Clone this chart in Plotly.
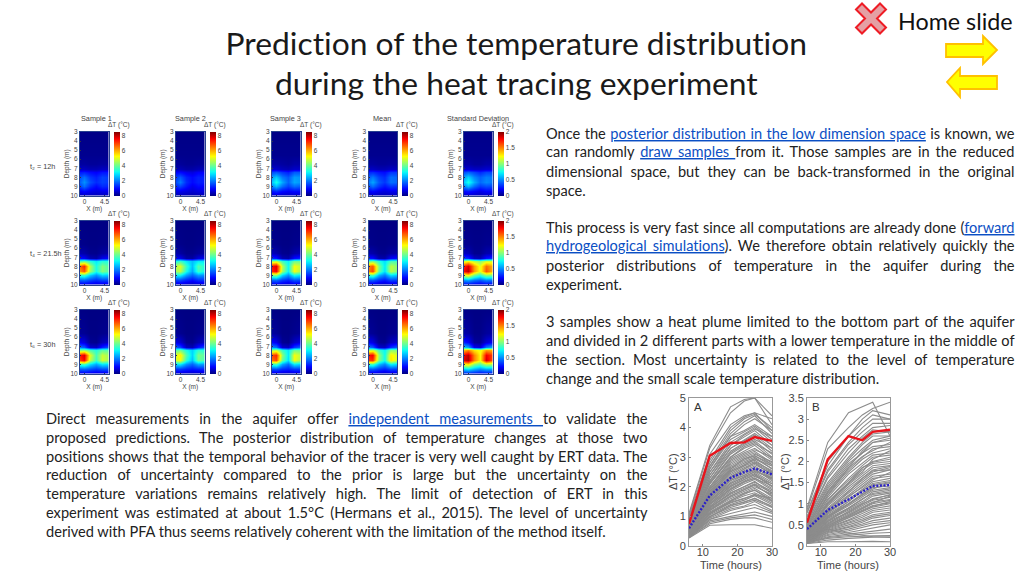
import json
import plotly.graph_objects as go

W, H = 1024, 576
# ---------- heat map data ----------
grid_x = [-1.4, 0, 1.2, 2.6, 4, 5.8]
grid_depth = [2.8, 5.5, 6.5, 7.1, 7.4, 8, 8.5, 9, 9.5, 10.2]

s1_t2 = [[.05,.05,.05,.05,.05,.05],[.12,.12,.12,.12,.12,.12],[.25,.25,.2,.2,.25,.25],[.5,.5,.4,.4,.5,.5],[1.1,1.2,1,.9,1.1,1.1],
         [1.5,1.9,1.4,1.2,1.5,1.4],[1.6,2.2,1.6,1.3,1.5,1.4],[1.3,1.9,1.3,1,1.3,1.2],[.8,1,.8,.7,.8,.8],[.3,.3,.3,.3,.3,.3]]
s2_t2 = [[.05,.05,.05,.05,.05,.05],[.1,.1,.1,.1,.1,.1],[.2,.2,.15,.15,.2,.2],[.4,.4,.3,.3,.4,.4],[.9,1,.8,.7,.9,.9],
         [1.3,1.7,1.2,1,1.2,1.1],[1.4,2,1.3,1,1.2,1.1],[1.1,1.5,1.1,.8,1,.9],[.7,.8,.7,.6,.7,.7],[.25,.25,.25,.25,.25,.25]]
s3_t2 = [[.05,.05,.05,.05,.05,.05],[.12,.12,.12,.12,.12,.12],[.3,.3,.25,.2,.3,.3],[.6,.6,.45,.4,.55,.55],[1.5,1.7,1.4,1.2,1.7,1.7],
         [2.1,2.7,2,1.7,2.3,2.2],[2.4,3.3,2.4,1.8,2.4,2.2],[1.9,2.6,1.9,1.5,1.9,1.7],[1,1.3,1,.9,1,1],[.35,.35,.35,.35,.35,.35]]
mean_t2 = [[.05,.05,.05,.05,.05,.05],[.12,.12,.12,.12,.12,.12],[.25,.25,.2,.2,.25,.25],[.5,.5,.4,.4,.5,.5],[1.2,1.3,1.1,1,1.4,1.4],
         [1.6,2,1.5,1.3,1.9,1.8],[1.8,2.4,1.7,1.4,1.9,1.8],[1.4,1.9,1.4,1.1,1.4,1.3],[.8,1,.8,.7,.8,.8],[.3,.3,.3,.3,.3,.3]]
sd_t2 = [[.02,.02,.02,.02,.02,.02],[.03,.03,.03,.03,.03,.03],[.07,.07,.05,.05,.07,.07],[.15,.15,.12,.12,.14,.14],[.36,.42,.36,.3,.36,.36],
         [.5,.65,.5,.42,.48,.46],[.58,.78,.58,.44,.5,.46],[.44,.6,.44,.34,.38,.36],[.22,.26,.22,.18,.22,.22],[.08,.09,.08,.08,.08,.08]]

s1_t4 = [[.03,.03,.03,.03,.03,.03],[.1,.08,.05,.05,.08,.1],[.4,.3,.12,.1,.25,.35],[1.1,.9,.4,.3,.8,1],[3.6,4,3.4,3,3.4,3.3],
         [6.4,7.2,4.6,3.3,4.2,3.7],[6,6.8,4.4,3.3,4.2,3.7],[3.4,3.6,2.7,2.2,2.8,2.6],[1.7,1.8,1.5,1.3,1.5,1.5],[.3,.4,.4,.4,.4,.3]]
s2_t4 = [[.03,.03,.03,.03,.03,.03],[.1,.08,.05,.05,.08,.1],[.35,.25,.1,.1,.2,.3],[.9,.8,.3,.25,.7,.9],[3.2,3.6,3,2.6,3,3],
         [4.5,5,3.6,2.6,3.8,3.3],[4.4,4.7,3.3,2.4,3.6,3.1],[3,3.1,2.3,1.8,2.3,2.1],[1.4,1.5,1.2,1,1.3,1.3],[.3,.3,.3,.3,.3,.3]]
s3_t4 = [[.03,.03,.03,.03,.03,.03],[.12,.1,.05,.05,.1,.12],[.5,.35,.12,.1,.3,.45],[1.3,1.1,.4,.3,1,1.3],[4.4,4.8,3.6,3.1,4,4],
         [7.3,7.8,4.7,3.2,5.2,4.6],[7.1,7.6,4.5,3.1,5.2,4.4],[3.9,4.2,2.8,2.2,3.2,2.8],[1.7,1.8,1.4,1.2,1.6,1.5],[.3,.4,.4,.4,.4,.3]]
mean_t4 = [[.03,.03,.03,.03,.03,.03],[.1,.08,.05,.05,.08,.1],[.4,.3,.12,.1,.25,.35],[1.1,1,.35,.3,.9,1.1],[3.8,4.2,3.4,2.9,3.7,3.7],
         [6.2,6.8,4.2,3,4.7,4.2],[6.1,7,4,2.9,4.7,4],[3.4,3.8,2.5,2,2.9,2.6],[1.6,1.7,1.3,1.1,1.5,1.4],[.3,.3,.3,.3,.3,.3]]
sd_t4 = [[.01,.01,.01,.01,.01,.01],[.03,.03,.02,.02,.03,.03],[.12,.1,.03,.03,.08,.1],[.35,.3,.12,.1,.25,.32],[1.1,1.25,1.1,1,1.15,1.15],
         [1.65,1.85,1.45,1.2,1.55,1.35],[1.75,1.9,1.45,1.2,1.6,1.35],[1.1,1.25,.95,.8,1,.95],[.5,.55,.45,.4,.48,.45],[.1,.1,.1,.1,.1,.1]]

s1_t6 = [[.03,.03,.03,.03,.03,.03],[.2,.15,.05,.05,.1,.15],[.9,.7,.15,.1,.4,.6],[2,1.7,.6,.5,1.2,1.7],[4.2,4.4,3.8,3.4,3.9,3.8],
         [7.2,7.8,5,3.7,4.8,4.4],[6.8,7.6,4.7,3.6,4.9,4.4],[3.4,3.7,2.9,2.4,3,2.8],[1.7,1.8,1.6,1.4,1.6,1.6],[.4,.4,.4,.4,.4,.4]]
s2_t6 = [[.03,.03,.03,.03,.03,.03],[.2,.12,.05,.05,.1,.15],[.8,.6,.15,.1,.35,.55],[1.8,1.5,.5,.4,1.1,1.6],[3.8,4.1,3.3,2.8,3.5,3.4],
         [4.9,5.4,3.8,2.8,4.1,3.8],[4.8,5.2,3.5,2.6,4,3.6],[2.8,3,2.2,1.8,2.4,2.2],[1.3,1.4,1.2,1.1,1.2,1.2],[.3,.3,.3,.3,.3,.3]]
s3_t6 = [[.03,.03,.03,.03,.03,.03],[.25,.18,.05,.05,.12,.2],[1.1,.8,.15,.1,.5,.8],[2.2,1.9,.6,.5,1.4,1.9],[4.3,4.8,3.6,3,4.1,4],
         [6.8,7.2,4.3,3,5.2,4.6],[6.4,6.9,4,2.9,5.2,4.4],[3.4,3.7,2.4,1.9,3,2.7],[1.5,1.6,1.3,1.2,1.4,1.4],[.3,.3,.3,.3,.3,.3]]
mean_t6 = [[.03,.03,.03,.03,.03,.03],[.22,.15,.05,.05,.12,.18],[.95,.7,.15,.1,.45,.7],[2.1,1.7,.6,.5,1.3,1.8],[4.5,4.9,3.7,3.1,4.3,4.2],
         [7.3,7.6,4.4,3.2,5.4,4.9],[6.9,7.2,4.2,3.2,5.5,4.7],[3.4,3.7,2.6,2.1,3.1,2.8],[1.6,1.7,1.4,1.2,1.5,1.4],[.3,.3,.3,.3,.3,.3]]
sd_t6 = [[.01,.01,.01,.01,.01,.01],[.08,.06,.02,.02,.05,.07],[.3,.22,.05,.04,.15,.22],[.65,.55,.2,.16,.46,.6],[1.35,1.5,1.3,1.2,1.45,1.4],
         [1.75,1.9,1.5,1.25,1.8,1.6],[1.8,1.92,1.5,1.25,1.85,1.55],[1.2,1.3,1,.9,1.1,1.05],[.62,.68,.58,.5,.56,.56],[.12,.12,.12,.12,.12,.12]]

col_titles = ["Sample 1", "Sample 2", "Sample 3", "Mean", "Standard Deviation"]
row_labels = ["t₂ = 12h", "t₄ = 21.5h", "t₆ = 30h"]
panels = [[s1_t2, s2_t2, s3_t2, mean_t2, sd_t2],
          [s1_t4, s2_t4, s3_t4, mean_t4, sd_t4],
          [s1_t6, s2_t6, s3_t6, mean_t6, sd_t6]]
cbar_max = [8.5, 8.5, 8.5, 8.5, 2]
cbar_ticks = [[0, 2, 4, 6, 8]] * 4 + [[0, 0.5, 1, 1.5, 2]]
depth_ticks = [3, 4, 5, 6, 7, 8, 9, 10]
x_ticks = [0, 4.5]
jet = [[0, "#00007f"], [0.11, "#0000ff"], [0.34, "#00e0ff"], [0.38, "#10ffef"], [0.62, "#ffff00"], [0.89, "#ff0000"], [1, "#7f0000"]]

# ---------- curves ----------
time_h = [6, 12, 18, 22, 25, 30]
red_a = [0.75, 3.05, 3.48, 3.5, 3.68, 3.55]
blue_a = [0.6, 1.7, 2.3, 2.5, 2.62, 2.42]
red_b = [0.55, 2.05, 2.6, 2.5, 2.7, 2.75]
blue_b = [0.4, 0.85, 1.1, 1.28, 1.42, 1.44]
gray_a = [
 [1.1,3.4,4.7,4.95,5.0,4.1],[1.05,3.3,4.5,4.9,5.0,4.4],[1.0,3.1,4.1,4.4,4.5,4.3],[.95,2.9,4.0,4.35,4.5,3.9],
 [.9,2.8,3.9,4.3,4.45,4.0],[.95,2.7,3.8,4.2,4.4,3.8],[.85,2.7,3.7,4.1,4.3,3.9],[.9,2.6,3.7,3.9,4.1,3.7],
 [.8,2.6,3.6,3.85,4.05,3.6],[.85,2.5,3.5,3.8,4.0,3.5],[.8,2.5,3.4,3.75,3.95,3.7],[.75,2.4,3.4,3.7,3.9,3.4],
 [.8,2.4,3.3,3.6,3.8,3.4],[.7,2.3,3.3,3.55,3.75,3.3],[.75,2.3,3.2,3.5,3.7,3.2],[.7,2.2,3.15,3.45,3.6,3.3],
 [.65,2.2,3.1,3.4,3.55,3.1],[.7,2.15,3.0,3.35,3.5,3.0],[.6,2.1,3.0,3.3,3.45,3.15],[.65,2.1,2.95,3.2,3.4,2.95],
 [.6,2.0,2.9,3.15,3.3,2.9],[.62,2.0,2.85,3.1,3.25,3.0],[.55,1.95,2.8,3.05,3.2,2.8],[.6,1.9,2.75,3.0,3.15,2.75],
 [.55,1.9,2.7,2.95,3.1,2.85],[.58,1.85,2.65,2.9,3.05,2.7],[.5,1.85,2.6,2.85,3.0,2.6],[.55,1.8,2.55,2.8,2.95,2.7],
 [.5,1.8,2.5,2.75,2.9,2.5],[.52,1.75,2.45,2.7,2.85,2.55],[.48,1.7,2.4,2.65,2.8,2.4],[.5,1.7,2.35,2.6,2.75,2.45],
 [.45,1.65,2.3,2.55,2.7,2.35],[.48,1.6,2.25,2.5,2.65,2.3],[.45,1.6,2.2,2.45,2.6,2.2],[.46,1.55,2.15,2.4,2.55,2.3],
 [.42,1.5,2.1,2.35,2.5,2.15],[.45,1.5,2.05,2.3,2.45,2.1],[.4,1.45,2.0,2.25,2.4,2.0],[.42,1.4,1.95,2.2,2.35,2.1],
 [.4,1.4,1.9,2.15,2.3,1.95],[.38,1.35,1.85,2.1,2.25,1.9],[.4,1.3,1.8,2.0,2.15,1.85],[.36,1.3,1.75,1.95,2.1,1.8],
 [.38,1.25,1.7,1.9,2.05,1.7],[.35,1.2,1.65,1.85,2.0,1.75],[.36,1.2,1.6,1.8,1.95,1.6],[.33,1.15,1.55,1.75,1.9,1.55],
 [.35,1.1,1.5,1.7,1.8,1.5],[.32,1.1,1.45,1.6,1.75,1.45],[.33,1.05,1.4,1.55,1.7,1.4],[.3,1.0,1.35,1.5,1.6,1.35],
 [.32,1.0,1.3,1.45,1.55,1.3],[.3,.95,1.25,1.35,1.5,1.2],[.3,.9,1.2,1.3,1.4,1.15],[.28,.9,1.1,1.2,1.3,1.1],
 [.3,.85,1.0,1.1,1.15,1.0],[.28,.8,.95,1.0,1.05,.9],[.3,.75,.9,.95,.95,.8],[.27,.7,.72,.73,.72,.6],
 [.44,1.75,2.6,2.95,3.05,2.75],[.52,1.68,2.52,2.72,2.95,2.62],[.4,1.58,2.32,2.62,2.82,2.48],[.55,1.52,2.22,2.38,2.58,2.25],
 [.35,1.48,2.12,2.32,2.52,2.28],[.42,1.42,2.02,2.24,2.42,2.02],[.5,1.32,1.92,2.18,2.28,2.04],[.34,1.28,1.78,2.02,2.18,1.78],
 [.4,1.22,1.68,1.92,2.08,1.66],[.3,1.12,1.52,1.78,1.88,1.52],[.34,1.08,1.48,1.62,1.72,1.62],[.36,.98,1.38,1.48,1.62,1.32],
]
gray_b = [
 [.9,2.45,3.15,3.3,3.4,2.6],[.85,2.3,2.8,3.1,3.25,3.4],[.8,2.0,2.6,3.0,3.2,3.1],[.78,1.9,2.6,2.9,3.1,3.0],
 [.7,1.8,2.45,2.8,3.0,3.0],[.68,1.75,2.4,2.7,2.9,2.9],[.62,1.65,2.3,2.6,2.8,2.85],[.6,1.6,2.2,2.55,2.75,2.7],
 [.58,1.5,2.1,2.45,2.65,2.7],[.55,1.45,2.05,2.4,2.6,2.6],[.5,1.4,2.0,2.3,2.5,2.6],[.52,1.35,1.95,2.2,2.45,2.5],
 [.48,1.3,1.9,2.2,2.35,2.4],[.45,1.25,1.8,2.1,2.3,2.35],[.42,1.2,1.75,2.05,2.2,2.3],[.44,1.15,1.7,1.95,2.15,2.2],
 [.4,1.1,1.6,1.9,2.1,2.15],[.38,1.1,1.55,1.85,2.0,2.1],[.36,1.05,1.5,1.8,1.95,2.0],[.35,1.0,1.45,1.7,1.9,1.95],
 [.34,.98,1.4,1.65,1.85,1.9],[.32,.95,1.35,1.6,1.8,1.88],[.3,.9,1.3,1.55,1.75,1.85],[.3,.88,1.25,1.5,1.7,1.8],
 [.28,.85,1.2,1.45,1.65,1.7],[.28,.8,1.15,1.4,1.6,1.65],[.26,.78,1.1,1.35,1.52,1.6],[.25,.75,1.05,1.3,1.48,1.55],
 [.24,.72,1.0,1.25,1.42,1.5],[.22,.7,.98,1.2,1.38,1.42],[.22,.68,.95,1.15,1.32,1.38],[.2,.65,.9,1.1,1.28,1.35],
 [.2,.62,.88,1.05,1.22,1.28],[.18,.6,.85,1.02,1.18,1.25],[.18,.58,.8,.98,1.12,1.2],[.17,.55,.78,.95,1.08,1.15],
 [.16,.52,.75,.92,1.04,1.1],[.16,.5,.72,.88,1.0,1.08],[.15,.48,.7,.85,.96,1.02],[.14,.46,.66,.8,.92,1.0],
 [.14,.44,.62,.76,.88,.95],[.13,.42,.6,.72,.84,.9],[.12,.4,.56,.68,.8,.85],[.12,.38,.54,.64,.74,.8],
 [.11,.36,.5,.6,.7,.76],[.1,.34,.46,.56,.66,.72],[.1,.32,.44,.52,.6,.66],[.09,.3,.4,.48,.55,.6],
 [.09,.27,.36,.44,.5,.55],[.08,.25,.32,.38,.44,.5],[.08,.22,.28,.32,.36,.4],[.07,.2,.25,.28,.3,.32],
 [.07,.18,.22,.24,.24,.25],[.06,.14,.18,.2,.21,.22],[.06,.1,.1,.11,.11,.1],[.2,.4,.3,.25,.22,.2],
 [.3,1.2,1.85,2.25,2.45,2.55],[.46,1.28,1.85,2.12,2.25,2.45],[.32,1.02,1.48,1.75,2.05,2.25],[.26,1.0,1.5,1.85,1.98,2.05],
 [.24,.82,1.28,1.6,1.78,1.8],[.3,.78,1.18,1.38,1.56,1.74],[.18,.7,1.05,1.32,1.45,1.52],[.2,.66,1.0,1.2,1.35,1.48],
 [.15,.58,.9,1.12,1.24,1.32],[.13,.52,.82,1.0,1.1,1.22],[.16,.48,.72,.9,1.02,1.18],[.11,.44,.68,.82,.94,1.05],
]

# ---------- text ----------
LINK = '<span style="color:#0b4fc4;text-decoration:underline">{}</span>'
right_lines = [
 ("Once the " + LINK.format("posterior distribution in the low dimension space") + " is known, we", 133, True),
 ("can randomly " + LINK.format("draw samples ") + "from it. Those samples are in the reduced", 152, True),
 ("dimensional space, but they can be back-transformed in the original", 171, True),
 ("space.", 190, False),
 ("This process is very fast since all computations are already done (" + LINK.format("forward"), 228, True),
 (LINK.format("hydrogeological simulations") + "). We therefore obtain relatively quickly the", 246, True),
 ("posterior distributions of temperature in the aquifer during the", 265, True),
 ("experiment.", 284, False),
 ("3 samples show a heat plume limited to the bottom part of the aquifer", 321, True),
 ("and divided in 2 different parts with a lower temperature in the middle of", 340, True),
 ("the section. Most uncertainty is related to the level of temperature", 359, True),
 ("change and the small scale temperature distribution.", 378, False),
]
left_lines = [
 ("Direct measurements in the aquifer offer " + LINK.format("independent measurements ") + "to validate the", 418, True),
 ("proposed predictions. The posterior distribution of temperature changes at those two", 437, True),
 ("positions shows that the temporal behavior of the tracer is very well caught by ERT data. The", 456, True),
 ("reduction of uncertainty compared to the prior is large but the uncertainty on the", 474, True),
 ("temperature variations remains relatively high. The limit of detection of ERT in this", 493, True),
 ("experiment was estimated at about 1.5°C (Hermans et al., 2015). The level of uncertainty", 512, True),
 ("derived with PFA thus seems relatively coherent with the limitation of the method itself.", 531, False),
]

# ---------- page helpers ----------
def fx(px): return px / W
def fy(py): return 1 - py / H
def path(points):
    return "M" + " L".join(f"{fx(x):.5f},{fy(y):.5f}" for x, y in points) + " Z"

fig = go.Figure()
layout = dict(width=W, height=H, margin=dict(l=0, r=0, t=0, b=0, autoexpand=False), paper_bgcolor="white", plot_bgcolor="white",
              showlegend=False, font=dict(family="Liberation Sans", color="#444"))
annotations = []
justify = {}

def note(text, x, y, size, color="#333", xanchor="center", family="Liberation Sans", angle=0):
    annotations.append(dict(text=text, x=fx(x), y=fy(y), xref="paper", yref="paper", showarrow=False, xanchor=xanchor,
                            yanchor="middle", align="left" if xanchor == "left" else "center",
                            font=dict(size=size, color=color, family=family), borderpad=0, textangle=angle))

# ---------- heat maps ----------
col_left = [80, 176, 272, 368.5, 464]
col_bar = [114, 210, 306, 402, 498]
row_top = [132, 221, 310]
PW, PH = 28.5, 63.5
n = 0
for r, row in enumerate(panels):
    for c, z in enumerate(row):
        n += 1
        x0, y0 = col_left[c], row_top[r]
        fig.add_trace(go.Heatmap(
            x=grid_x, y=grid_depth, z=z, zsmooth="best", colorscale=jet, zmin=0, zmax=cbar_max[c],
            xaxis=f"x{n}", yaxis=f"y{n}", hoverinfo="skip",
            colorbar=dict(x=fx(col_bar[c]), xanchor="left", y=fy(y0), yanchor="top", lenmode="pixels", len=PH,
                          thickness=6, thicknessmode="pixels", xpad=0, ypad=0, outlinewidth=0,
                          tickvals=cbar_ticks[c], ticks="",
                          tickfont=dict(size=6.5, color="#444", family="Liberation Sans"))))
        layout[f"xaxis{n}"] = dict(domain=[fx(x0), fx(x0 + PW)], anchor=f"y{n}", range=[-1, 5.4], tickvals=x_ticks,
                                   ticktext=["0", "4.5"], ticks="inside", ticklen=1, tickcolor="#334", showgrid=False,
                                   zeroline=False, showline=True, mirror=True, linecolor="#27408f", linewidth=1,
                                   tickfont=dict(size=6.5, color="#444"),
                                   title=dict(text="X (m)", font=dict(size=6.5, color="#444"), standoff=0))
        layout[f"yaxis{n}"] = dict(domain=[fy(y0 + PH), fy(y0)], anchor=f"x{n}", range=[10, 3], tickvals=depth_ticks,
                                   ticks="inside", ticklen=1, tickcolor="#334", showgrid=False, zeroline=False,
                                   showline=True, mirror=True, linecolor="#27408f", linewidth=1,
                                   tickfont=dict(size=6.5, color="#444"),
                                   title=dict(text="Depth (m)", font=dict(size=6.5, color="#444"), standoff=0))
        note("ΔT (°C)", col_bar[c] + 5, y0 - 7, 6.5, color="#444")

for c, t in enumerate(col_titles):
    note(t, [96, 190, 285, 382, 478][c], 118, 7.3, color="#444")
for r, t in enumerate(row_labels):
    note(t, 29, [166, 253, 344][r], 7.3, color="#444", xanchor="left")

# ---------- curves ----------
curve_axes = [(18, 689, 772, [0, 5], 1, gray_a, red_a, blue_a, "A", 673, 731),
              (19, 807, 890, [0, 3.5], 0.5, gray_b, red_b, blue_b, "B", 785, 848)]
for k, x0, x1, yr, dt, gray, red, blue, tag, ylab_x, xlab_x in curve_axes:
    for g in gray:
        fig.add_trace(go.Scatter(x=time_h, y=g, mode="lines", xaxis=f"x{k}", yaxis=f"y{k}", hoverinfo="skip",
                                 line=dict(color="#8c8c8c", width=1.1)))
    fig.add_trace(go.Scatter(x=time_h, y=red, mode="lines", xaxis=f"x{k}", yaxis=f"y{k}", hoverinfo="skip",
                             line=dict(color="#e8141c", width=2.4)))
    fig.add_trace(go.Scatter(x=time_h, y=blue, mode="lines", xaxis=f"x{k}", yaxis=f"y{k}", hoverinfo="skip",
                             line=dict(color="#2a20c8", width=2.4, dash="2px 1.6px")))
    layout[f"xaxis{k}"] = dict(domain=[fx(x0), fx(x1)], anchor=f"y{k}", range=[6, 30], tickvals=[10, 20, 30],
                               ticks="inside", ticklen=2, tickcolor="#888", showgrid=False, zeroline=False,
                               showline=True, mirror=True, linecolor="#999", linewidth=1, ticklabelstandoff=-4,
                               tickfont=dict(size=11, color="#444"))
    layout[f"yaxis{k}"] = dict(domain=[fy(546), fy(398)], anchor=f"x{k}", range=yr, dtick=dt, tickformat="~g",
                               ticks="inside", ticklen=2, tickcolor="#888", showgrid=False, zeroline=False,
                               showline=True, mirror=True, linecolor="#999", linewidth=1,
                               tickfont=dict(size=11, color="#444"))
    note(tag, x0 + 9, 407, 11.5, color="#333")
    note("ΔT (°C)", ylab_x, 472, 11, color="#444", angle=-90)
    note("Time (hours)", xlab_x, 564.5, 11, color="#444")

# ---------- page text ----------
BODY = "Lato"
note("Prediction of the temperature distribution", 516, 43, 31.8, color="#1a1a1a", family=BODY)
note("during the heat tracing experiment", 516, 83, 31.8, color="#1a1a1a", family=BODY)
note("Home slide", 897, 21, 23.3, color="#111", xanchor="left", family=BODY)

for lines, x0, width in [(right_lines, 545, 468.5), (left_lines, 45, 601.5)]:
    for text, y, just in lines:
        if just:
            justify[len(annotations)] = width
        note(text, x0, y, 14.6, color="#222", xanchor="left", family=BODY)

# ---------- navigation glyphs ----------
cx, cy = 871, 18.5
cross = [(-15, -9), (-9, -15), (0, -6), (9, -15), (15, -9), (6, 0), (15, 9), (9, 15), (0, 6), (-9, 15), (-15, 9), (-6, 0)]
arrow_r = [(946, 44), (983, 44), (983, 36), (997, 50), (983, 64), (983, 57), (946, 57)]
arrow_l = [(997, 76), (960, 76), (960, 68), (947, 82), (960, 97), (960, 89), (997, 89)]
layout["shapes"] = [
    dict(type="path", xref="paper", yref="paper", path=path([(cx + a, cy + b) for a, b in cross]),
         fillcolor="#e5a0a4", line=dict(color="#ee1c25", width=2)),
    dict(type="path", xref="paper", yref="paper", path=path(arrow_r), fillcolor="#ffff00", line=dict(color="#ffc000", width=1.8)),
    dict(type="path", xref="paper", yref="paper", path=path(arrow_l), fillcolor="#ffff00", line=dict(color="#ffc000", width=1.8)),
]
layout["annotations"] = annotations
fig.update_layout(**layout)

post = """
document.body.style.margin='0';document.body.style.overflow='hidden';
var J=%s;
document.querySelectorAll('text').forEach(function(t){t.style.fontVariantLigatures='none';});
Object.keys(J).forEach(function(i){
  var g=document.querySelector('.annotation[data-index="'+i+'"] text');
  if(!g)return;
  var s=(g.textContent.trim().match(/ +/g)||[]).length;
  var w=g.getComputedTextLength();
  if(s)g.style.wordSpacing=((J[i]-w)/s)+'px';
});
""" % json.dumps(justify)
fig.write_html("out.html", post_script=post, config={"displayModeBar": False})
